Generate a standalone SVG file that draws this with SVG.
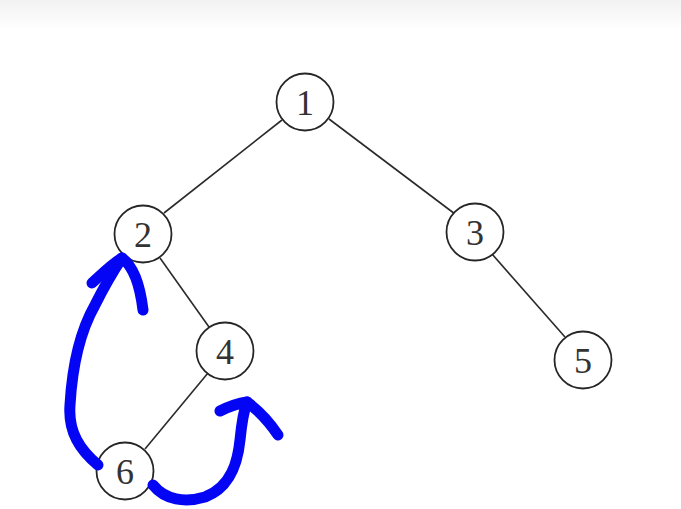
<svg xmlns="http://www.w3.org/2000/svg" width="681" height="509" viewBox="0 0 681 509">
<defs>
<linearGradient id="topband" x1="0" y1="0" x2="0" y2="1">
<stop offset="0" stop-color="#f2f2f2"/>
<stop offset="1" stop-color="#ffffff"/>
</linearGradient>
<style>
.node circle{fill:#fff;stroke:#262626;stroke-width:1.8}
.node text{font-family:"Liberation Serif","DejaVu Serif",serif;font-size:36px;fill:#333;text-anchor:middle;dominant-baseline:central}
.edge{stroke:#2a2a2a;stroke-width:1.6;fill:none}
.ink{stroke:#0505f5;stroke-width:11;fill:none;stroke-linecap:round;stroke-linejoin:round}
</style>
</defs>
<rect width="681" height="509" fill="#fff"/>
<rect width="681" height="30" fill="url(#topband)"/>
<g id="connectors">
<line class="edge" x1="282" y1="120" x2="164" y2="213"/>
<line class="edge" x1="329" y1="119" x2="455" y2="214"/>
<line class="edge" x1="160" y1="258" x2="209" y2="327"/>
<line class="edge" x1="492" y1="254" x2="565" y2="337"/>
<line class="edge" x1="208" y1="373" x2="145" y2="449"/>
</g>
<g id="node1" class="node"><circle cx="305" cy="102" r="28.5"/><text x="305" y="103">1</text></g>
<g id="node2" class="node"><circle cx="143" cy="234" r="28.5"/><text x="143" y="235">2</text></g>
<g id="node3" class="node"><circle cx="475" cy="232" r="28.5"/><text x="475" y="233">3</text></g>
<g id="node4" class="node"><circle cx="225" cy="351" r="28.5"/><text x="225" y="352">4</text></g>
<g id="node5" class="node"><circle cx="583" cy="360" r="28.5"/><text x="583" y="361">5</text></g>
<g id="node6" class="node"><circle cx="125" cy="471" r="28.5"/><text x="125" y="472">6</text></g>
<g id="annotations">
<path class="ink" d="M98,465 C80,450 68,432 70,405 C72,370 78,335 95,305 C105,285 114,270 122,258"/>
<path class="ink" d="M92,283 C102,274 112,264 122,258 C133,266 140,285 143,310"/>
<path class="ink" d="M153,485 C165,500 185,503 205,497 C232,487 238,460 240,440 C242,420 244,410 247,402"/>
<path class="ink" d="M220,411 C230,406 240,403 247,402 C258,410 268,420 278,435"/>
</g>
</svg>
